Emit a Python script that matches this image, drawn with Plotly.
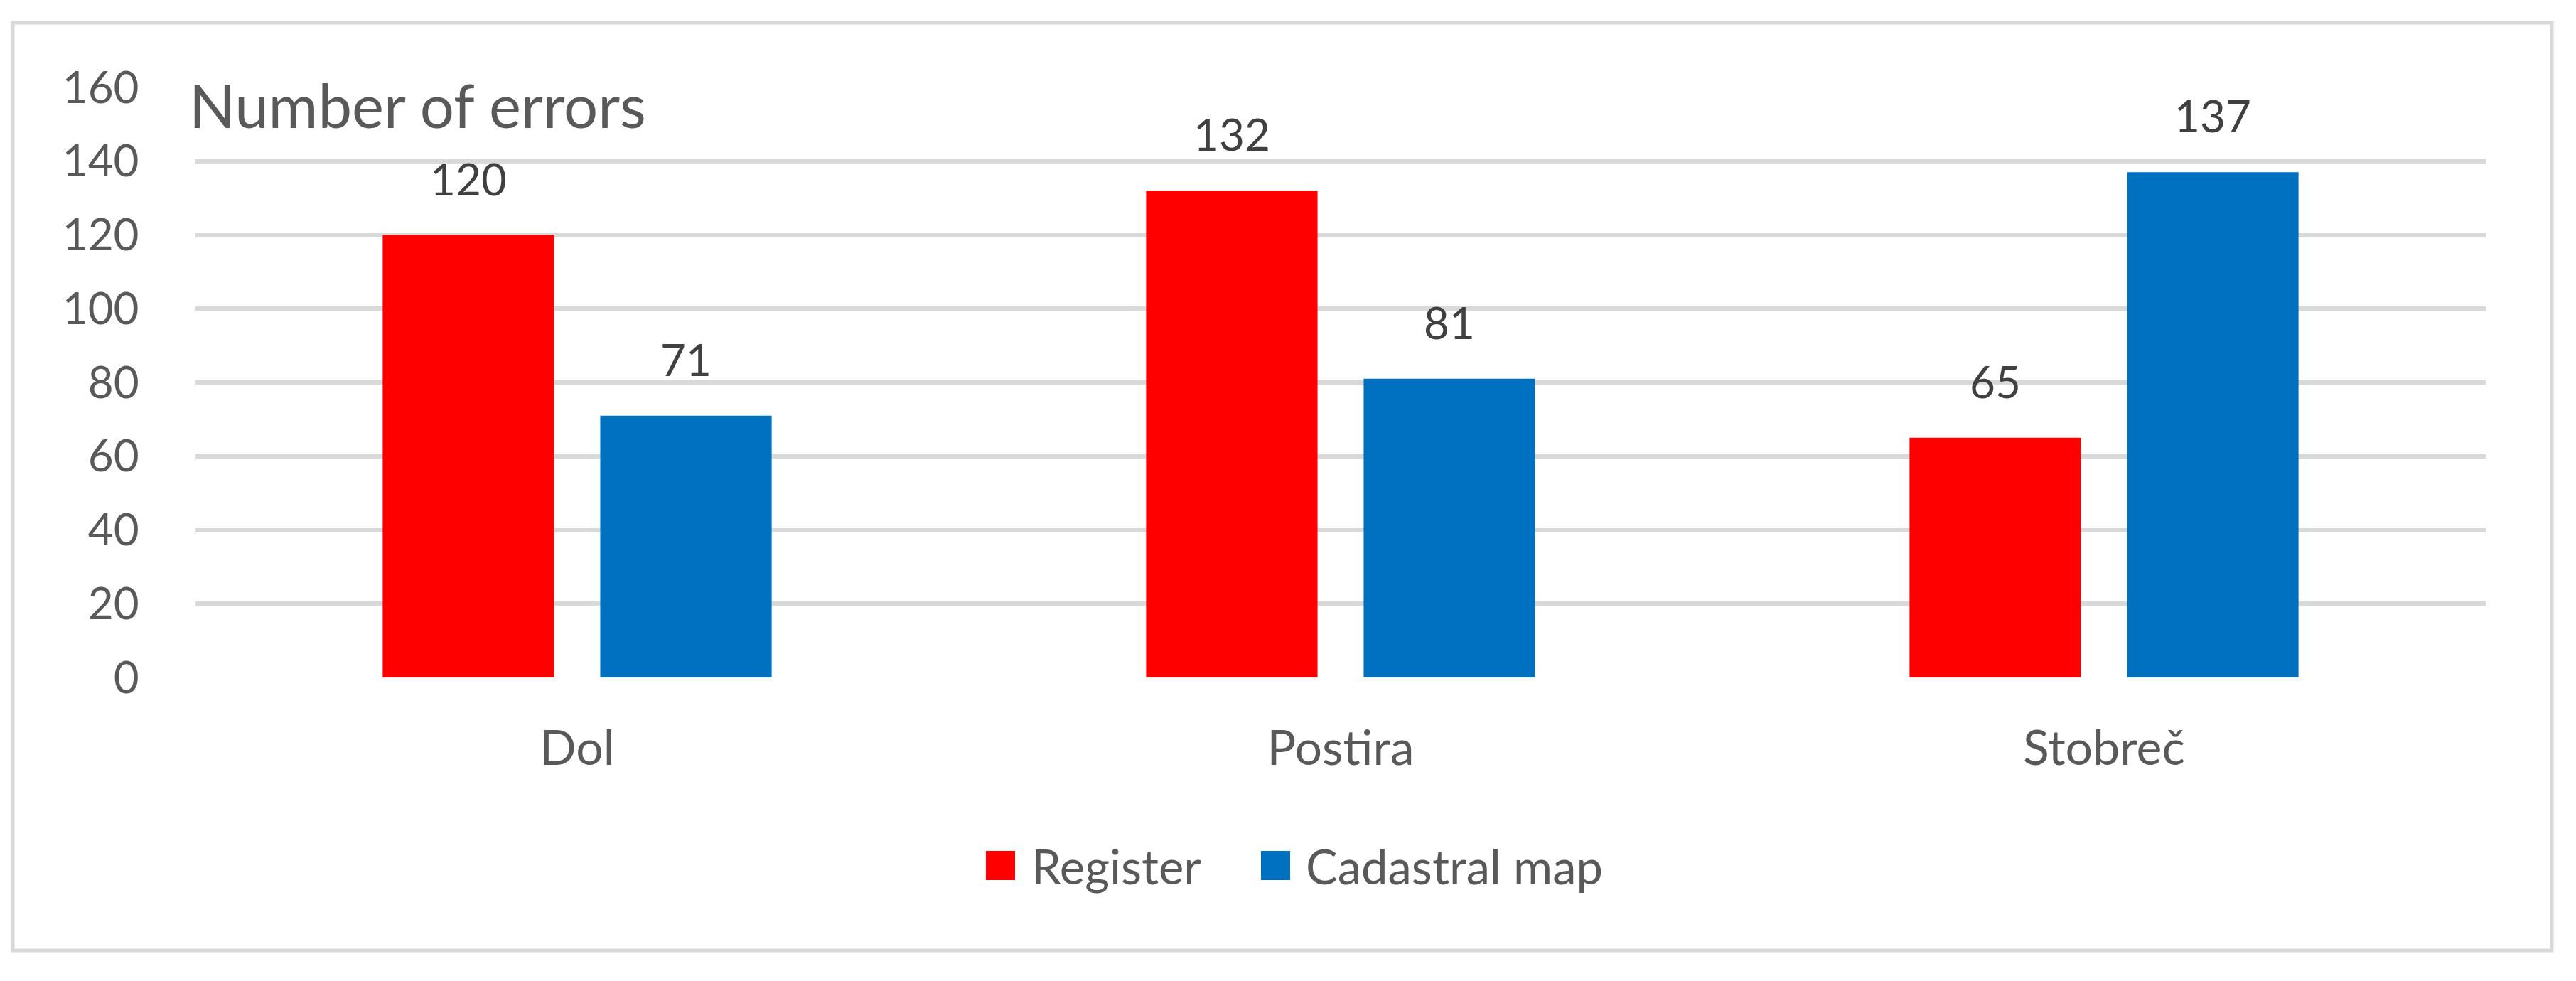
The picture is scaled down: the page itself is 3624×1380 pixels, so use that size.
import plotly.graph_objects as go

categories = ["Dol", "Postira", "Stobreč"]
series_names = ["Register", "Cadastral map"]
register_values = [120, 132, 65]
cadastral_values = [71, 81, 137]
series_colors = ["#FF0000", "#0070C0"]
y_ticks = [0, 20, 40, 60, 80, 100, 120, 140, 160]
y_axis_title = "Number of errors"

W, H = 3624, 1380
L, R, T, B = 275, 3497, 123, 953  # plot area in pixels
PW, PH = R - L, B - T


def px(x):
    return (x - L) / PW


def py(y):
    return (B - y) / PH


FONT = "Lato, 'Open Sans', sans-serif"
GRAY = "#595959"

fig = go.Figure()
for name, vals, col in zip(series_names, [register_values, cadastral_values], series_colors):
    fig.add_trace(go.Bar(name=name, x=categories, y=vals, marker=dict(color=col, line=dict(width=0)),
                         showlegend=False))

annotations = []
# data labels
for vals, shift in zip([register_values, cadastral_values], [-153, 153]):
    for c, v in zip(categories, vals):
        annotations.append(dict(x=c, y=v, xref="x", yref="y", text=str(v), showarrow=False,
                                xshift=shift, yshift=80, yanchor="middle",
                                font=dict(family=FONT, size=62, color="#404040")))

# axis title placed horizontally at the top-left
annotations.append(dict(x=px(264), y=py(147), xref="paper", yref="paper", text=y_axis_title,
                        showarrow=False, xanchor="left", yanchor="middle",
                        font=dict(family=FONT, size=85, color=GRAY)))

shapes = []
# chart border
shapes.append(dict(type="rect", xref="paper", yref="paper", x0=px(18), x1=px(3590), y0=py(1337), y1=py(32),
                   line=dict(color="#D9D9D9", width=5), fillcolor="rgba(0,0,0,0)", layer="below"))

# manual legend
legend_items = [(1387, 1449), (1774, 1835)]
for (sx, tx), name, col in zip(legend_items, series_names, series_colors):
    shapes.append(dict(type="rect", xref="paper", yref="paper", x0=px(sx), x1=px(sx + 41),
                       y0=py(1238), y1=py(1197), fillcolor=col, line=dict(width=0)))
    annotations.append(dict(x=px(tx), y=py(1218), xref="paper", yref="paper", text=name,
                            showarrow=False, xanchor="left", yanchor="middle",
                            font=dict(family=FONT, size=67, color=GRAY)))

fig.update_layout(
    width=W, height=H,
    margin=dict(l=L, r=W - R, t=T, b=H - B, pad=0),
    paper_bgcolor="white", plot_bgcolor="white",
    barmode="group", bargap=0.43, bargroupgap=0.212,
    font=dict(family=FONT, color=GRAY),
    annotations=annotations, shapes=shapes,
    showlegend=False,
)
fig.update_xaxes(showgrid=False, showline=False, zeroline=False,
                 ticks="outside", ticklen=40, tickcolor="rgba(0,0,0,0)",
                 tickfont=dict(family=FONT, size=68, color=GRAY))
fig.update_yaxes(range=[0, 160], tickvals=y_ticks, showgrid=True, gridcolor="#D9D9D9", gridwidth=6,
                 zeroline=False, showline=False,
                 ticks="outside", ticklen=66, tickcolor="rgba(0,0,0,0)",
                 tickfont=dict(family=FONT, size=62, color=GRAY))

fig.write_html("out.html", config={"displayModeBar": False},
               post_script="document.body.style.margin='0';")
